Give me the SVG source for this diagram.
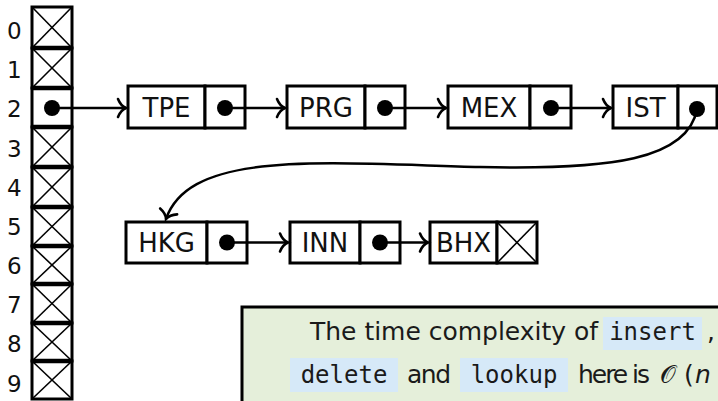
<svg xmlns="http://www.w3.org/2000/svg" width="718" height="401" viewBox="0 0 718 401">
  <style>
    .cell { fill: #fff; stroke: #000; stroke-width: 3; }
    .sep { stroke: #000; stroke-width: 4.5; }
    .x { stroke: #000; stroke-width: 1.6; }
    .idx { font-family: "DejaVu Sans", sans-serif; font-size: 23px; fill: #111; }
    .key { font-family: "DejaVu Sans", sans-serif; font-size: 26px; fill: #111; text-anchor: middle; }
    .dot { fill: #000; }
    .conn { fill: none; stroke: #000; stroke-width: 2.5; marker-end: url(#to); }
    .txt { font-family: "DejaVu Sans", sans-serif; font-size: 25px; fill: #1a1a1a; }
    .code { font-family: "DejaVu Sans Mono", monospace; font-size: 24px; fill: #1a1a1a; text-anchor: middle; }
    .hl { fill: #d6e9f8; }
  </style>
  <defs>
    <marker id="to" markerUnits="userSpaceOnUse" viewBox="-10 -10 12 20" markerWidth="12" markerHeight="20" refX="0" refY="0" orient="auto" overflow="visible">
      <path d="M-8,-9 C-6,-4 -2.5,-1 0,0 C-2.5,1 -6,4 -8,9" fill="none" stroke="#000" stroke-width="2.6" stroke-linecap="round"/>
    </marker>
  </defs>

  <!-- hash table slots -->
  <g id="table">
    <g id="slot-0"><text class="idx" x="7" y="39">0</text><rect class="cell" x="32" y="7" width="40" height="41"/><line class="x" x1="32" y1="7" x2="72" y2="48"/><line class="x" x1="72" y1="7" x2="32" y2="48"/></g>
    <g id="slot-1"><text class="idx" x="7" y="78">1</text><rect class="cell" x="32" y="48" width="40" height="40"/><line class="x" x1="32" y1="48" x2="72" y2="88"/><line class="x" x1="72" y1="48" x2="32" y2="88"/></g>
    <g id="slot-2"><text class="idx" x="7" y="117">2</text><rect class="cell" x="32" y="88" width="40" height="39"/><circle class="dot" cx="52" cy="108" r="8"/></g>
    <g id="slot-3"><text class="idx" x="7" y="157">3</text><rect class="cell" x="32" y="127" width="40" height="40"/><line class="x" x1="32" y1="127" x2="72" y2="167"/><line class="x" x1="72" y1="127" x2="32" y2="167"/></g>
    <g id="slot-4"><text class="idx" x="7" y="196">4</text><rect class="cell" x="32" y="167" width="40" height="40"/><line class="x" x1="32" y1="167" x2="72" y2="207"/><line class="x" x1="72" y1="167" x2="32" y2="207"/></g>
    <g id="slot-5"><text class="idx" x="7" y="235">5</text><rect class="cell" x="32" y="207" width="40" height="39"/><line class="x" x1="32" y1="207" x2="72" y2="246"/><line class="x" x1="72" y1="207" x2="32" y2="246"/></g>
    <g id="slot-6"><text class="idx" x="7" y="274">6</text><rect class="cell" x="32" y="246" width="40" height="38"/><line class="x" x1="32" y1="246" x2="72" y2="284"/><line class="x" x1="72" y1="246" x2="32" y2="284"/></g>
    <g id="slot-7"><text class="idx" x="7" y="313">7</text><rect class="cell" x="32" y="284" width="40" height="39"/><line class="x" x1="32" y1="284" x2="72" y2="323"/><line class="x" x1="72" y1="284" x2="32" y2="323"/></g>
    <g id="slot-8"><text class="idx" x="7" y="352">8</text><rect class="cell" x="32" y="323" width="40" height="38"/><line class="x" x1="32" y1="323" x2="72" y2="361"/><line class="x" x1="72" y1="323" x2="32" y2="361"/></g>
    <g id="slot-9"><text class="idx" x="7" y="392">9</text><rect class="cell" x="32" y="361" width="40" height="38"/><line class="x" x1="32" y1="361" x2="72" y2="399"/><line class="x" x1="72" y1="361" x2="32" y2="399"/></g>
    <g id="slot-seps">
      <line class="sep" x1="31" y1="48" x2="73" y2="48"/>
      <line class="sep" x1="31" y1="88" x2="73" y2="88"/>
      <line class="sep" x1="31" y1="127" x2="73" y2="127"/>
      <line class="sep" x1="31" y1="167" x2="73" y2="167"/>
      <line class="sep" x1="31" y1="207" x2="73" y2="207"/>
      <line class="sep" x1="31" y1="246" x2="73" y2="246"/>
      <line class="sep" x1="31" y1="284" x2="73" y2="284"/>
      <line class="sep" x1="31" y1="323" x2="73" y2="323"/>
      <line class="sep" x1="31" y1="361" x2="73" y2="361"/>
    </g>
  </g>

  <!-- chain nodes: key cell + pointer cell -->
  <g id="n-TPE"><rect class="cell" x="128" y="86" width="77" height="42"/><rect class="cell" x="205" y="86" width="40" height="42"/><text class="key" x="166.5" y="116.5">TPE</text><circle class="dot" cx="225" cy="108" r="8"/></g>
  <g id="n-PRG"><rect class="cell" x="287" y="86" width="78" height="42"/><rect class="cell" x="365" y="86" width="40" height="42"/><text class="key" x="326" y="116.5">PRG</text><circle class="dot" cx="385" cy="108" r="8"/></g>
  <g id="n-MEX"><rect class="cell" x="448" y="86" width="82" height="42"/><rect class="cell" x="530" y="86" width="41" height="42"/><text class="key" x="489" y="116.5">MEX</text><circle class="dot" cx="551" cy="108" r="8"/></g>
  <g id="n-IST"><rect class="cell" x="613" y="86" width="65" height="42"/><rect class="cell" x="678" y="86" width="39" height="42"/><text class="key" x="645.5" y="116.5">IST</text><circle class="dot" cx="697" cy="109" r="8"/></g>

  <g id="n-HKG"><rect class="cell" x="126" y="222" width="81" height="41"/><rect class="cell" x="207" y="222" width="40" height="41"/><text class="key" x="166.5" y="252">HKG</text><circle class="dot" cx="227" cy="242.5" r="8"/></g>
  <g id="n-INN"><rect class="cell" x="290" y="222" width="70" height="41"/><rect class="cell" x="360" y="222" width="40" height="41"/><text class="key" x="325" y="252">INN</text><circle class="dot" cx="380" cy="242.5" r="8"/></g>
  <g id="n-BHX"><rect class="cell" x="430" y="222" width="67" height="41"/><rect class="cell" x="497" y="222" width="40" height="41"/><text class="key" x="463.5" y="252">BHX</text><line class="x" x1="497" y1="222" x2="537" y2="263"/><line class="x" x1="537" y1="222" x2="497" y2="263"/></g>

  <!-- next-pointer connectors -->
  <g id="connectors">
    <line class="conn" x1="52" y1="108" x2="126" y2="108"/>
    <line class="conn" x1="225" y1="108" x2="285" y2="108"/>
    <line class="conn" x1="385" y1="108" x2="446" y2="108"/>
    <line class="conn" x1="551" y1="108" x2="611" y2="108"/>
    <path class="conn" d="M697,109 C688,160 610,170 480,167 C320,163 190,150 166,219"/>
    <line class="conn" x1="227" y1="242.5" x2="288" y2="242.5"/>
    <line class="conn" x1="380" y1="242.5" x2="428" y2="242.5"/>
  </g>

  <!-- complexity note -->
  <g id="note">
    <rect x="242" y="307" width="500" height="110" fill="#e5efda" stroke="#000" stroke-width="3"/>
    <text class="txt" x="310" y="340" textLength="288" lengthAdjust="spacing">The time complexity of</text>
    <rect class="hl" x="603" y="317" width="99" height="33"/>
    <text class="code" x="652.5" y="340">insert</text>
    <text class="txt" x="707" y="340">,</text>
    <rect class="hl" x="290" y="358" width="108" height="34"/>
    <text class="code" x="344" y="383">delete</text>
    <text class="txt" x="407" y="383" textLength="44" lengthAdjust="spacing">and</text>
    <rect class="hl" x="460" y="358" width="108" height="34"/>
    <text class="code" x="514" y="383">lookup</text>
    <text class="txt" x="578" y="383" textLength="72" lengthAdjust="spacing">here is</text>
    <text class="txt" x="660" y="383">𝒪</text>
    <text class="txt" x="684" y="383">(</text>
    <text class="txt" x="695" y="383" font-style="italic">n</text>
  </g>
</svg>
